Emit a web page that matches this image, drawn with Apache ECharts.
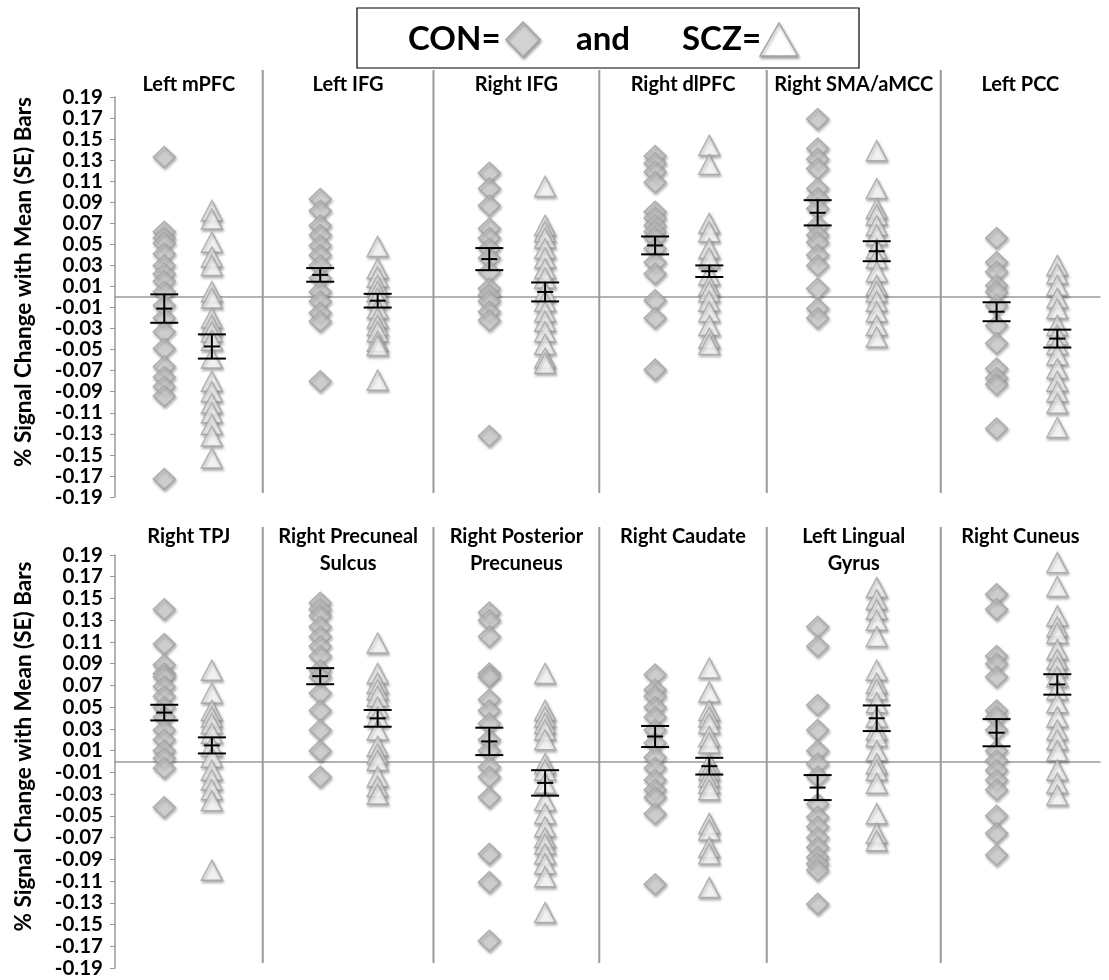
<!DOCTYPE html>
<html>
<head>
<meta charset="utf-8">
<script src="https://cdn.jsdelivr.net/npm/echarts@6/dist/echarts.min.js"></script>
<style>
html,body{margin:0;padding:0;background:#fff;}
#chart{width:1109px;height:980px;}
</style>
</head>
<body>
<div id="chart"></div>
<script>
// ---------------- DATA ----------------
const regions = [
  'Left mPFC', 'Left IFG', 'Right IFG', 'Right dlPFC', 'Right SMA/aMCC', 'Left PCC',
  'Right TPJ', 'Right Precuneal\nSulcus', 'Right Posterior\nPrecuneus', 'Right Caudate', 'Left Lingual\nGyrus', 'Right Cuneus'
];
const yTicks = [-0.19,-0.17,-0.15,-0.13,-0.11,-0.09,-0.07,-0.05,-0.03,-0.01,0.01,0.03,0.05,0.07,0.09,0.11,0.13,0.15,0.17,0.19];

const conValues = [
  [0.133,0.062,0.056,0.051,0.041,0.030,0.022,0.015,0.005,-0.008,-0.020,-0.033,-0.049,-0.066,-0.076,-0.085,-0.094,-0.173],
  [0.093,0.082,0.068,0.059,0.049,0.040,0.030,0.018,0.005,-0.004,-0.015,-0.023,-0.080],
  [0.118,0.103,0.087,0.065,0.056,0.046,0.037,0.024,0.008,0.002,-0.004,-0.014,-0.022,-0.132],
  [0.134,0.127,0.119,0.109,0.081,0.075,0.068,0.062,0.056,0.046,0.033,0.022,-0.003,-0.020,-0.069],
  [0.169,0.141,0.131,0.122,0.103,0.094,0.084,0.068,0.059,0.052,0.040,0.030,0.008,-0.011,-0.020],
  [0.056,0.033,0.024,0.011,0.005,-0.008,-0.027,-0.044,-0.068,-0.077,-0.083,-0.125],
  [0.140,0.108,0.089,0.081,0.078,0.069,0.060,0.050,0.041,0.029,0.020,0.010,0.003,-0.006,-0.042],
  [0.146,0.140,0.134,0.124,0.115,0.106,0.097,0.084,0.078,0.063,0.047,0.029,0.010,-0.014],
  [0.137,0.130,0.115,0.081,0.078,0.057,0.047,0.035,0.020,0.010,-0.005,-0.014,-0.033,-0.085,-0.111,-0.165],
  [0.080,0.066,0.060,0.050,0.041,0.029,0.017,0.004,-0.006,-0.017,-0.026,-0.033,-0.048,-0.113],
  [0.124,0.106,0.052,0.029,0.010,-0.002,-0.014,-0.039,-0.051,-0.060,-0.070,-0.079,-0.088,-0.094,-0.100,-0.131],
  [0.154,0.140,0.097,0.090,0.078,0.047,0.041,0.029,0.010,0.001,-0.008,-0.017,-0.026,-0.050,-0.066,-0.086]
];
const sczValues = [
  [0.082,0.074,0.052,0.038,0.030,0.005,-0.001,-0.020,-0.027,-0.033,-0.041,-0.058,-0.080,-0.090,-0.101,-0.110,-0.121,-0.132,-0.153],
  [0.048,0.027,0.019,0.011,0.005,-0.001,-0.011,-0.020,-0.027,-0.033,-0.042,-0.046,-0.079],
  [0.105,0.068,0.062,0.056,0.046,0.037,0.027,0.018,0.005,-0.004,-0.014,-0.023,-0.033,-0.045,-0.058,-0.063],
  [0.144,0.126,0.070,0.062,0.046,0.037,0.021,0.011,0.005,-0.004,-0.014,-0.027,-0.039,-0.045],
  [0.139,0.103,0.084,0.078,0.068,0.059,0.046,0.037,0.024,0.011,0.005,-0.004,-0.014,-0.027,-0.038],
  [0.030,0.022,0.011,-0.001,-0.011,-0.027,-0.036,-0.045,-0.055,-0.068,-0.080,-0.090,-0.101,-0.124],
  [0.084,0.063,0.047,0.041,0.035,0.026,0.014,0.004,-0.008,-0.017,-0.026,-0.036,-0.100],
  [0.109,0.081,0.072,0.066,0.060,0.050,0.041,0.029,0.014,0.007,0.001,-0.014,-0.023,-0.030],
  [0.081,0.047,0.041,0.035,0.029,0.020,-0.002,-0.008,-0.020,-0.036,-0.048,-0.060,-0.070,-0.076,-0.085,-0.094,-0.106,-0.139],
  [0.086,0.064,0.047,0.041,0.035,0.023,0.017,-0.002,-0.008,-0.014,-0.020,-0.026,-0.057,-0.063,-0.079,-0.085,-0.116],
  [0.160,0.149,0.140,0.130,0.115,0.084,0.072,0.066,0.054,0.041,0.029,0.023,0.010,-0.002,-0.008,-0.020,-0.048,-0.066,-0.073],
  [0.183,0.161,0.134,0.124,0.118,0.103,0.094,0.087,0.078,0.066,0.054,0.041,0.029,0.020,0.010,-0.008,-0.020,-0.031]
];
const conMean = [-0.011,0.021,0.036,0.049,0.080,-0.014, 0.045,0.0785,0.0185,0.023,-0.024,0.0265];
const conSE   = [0.0135,0.0065,0.0105,0.0085,0.012,0.009, 0.0072,0.0074,0.0126,0.0097,0.0115,0.0125];
const sczMean = [-0.047,-0.0035,0.0048,0.0245,0.0435,-0.0395, 0.0148,0.0397,-0.0197,-0.0043,0.0398,0.0709];
const sczSE   = [0.0115,0.0065,0.009,0.0055,0.0095,0.0085, 0.0074,0.0077,0.0117,0.0077,0.0118,0.0094];

// ---------------- LAYOUT ----------------
const conX = [0.30,1.25,2.28,3.29,4.28,5.37];
const sczX = [0.59,1.60,2.62,3.62,4.64,5.74];
const dividerX = [0.90,1.94,2.95,3.97,5.03];
const bounds = [0].concat(dividerX, [6]);
const titleX = [0,1,2,3,4,5].map(i => (bounds[i] + bounds[i+1]) / 2);
const FONT = 'Lato';
const grids = [
  {left:115, top:97, width:985, height:400, divTop:27, divBot:4, titleOff:26},
  {left:115, top:555, width:985, height:413, divTop:28, divBot:5, titleOff:32}
];

const series = [];
const xAxes = [], yAxes = [];
grids.forEach((g, r) => {
  xAxes.push({
    gridIndex:r, type:'value', min:0, max:6,
    axisLine:{show:true, onZero:true, lineStyle:{color:'#9a9a9a', width:1.5}},
    axisTick:{show:false}, axisLabel:{show:false}, splitLine:{show:false}
  });
  yAxes.push({
    gridIndex:r, type:'value', min:-0.19, max:0.19,
    axisLine:{show:true, lineStyle:{color:'#9a9a9a', width:1.5}},
    axisTick:{show:true, inside:false, length:5, customValues:yTicks, lineStyle:{color:'#9a9a9a', width:1}},
    axisLabel:{customValues:yTicks, formatter:v => v.toFixed(2), fontFamily:FONT, fontWeight:'bold', fontSize:20.5, color:'#000', margin:12},
    splitLine:{show:false},
    name:'% Signal Change with Mean (SE) Bars', nameLocation:'middle', nameGap:80,
    nameTextStyle:{fontFamily:FONT, fontWeight:'bold', fontSize:22.5, color:'#000', padding:[0,0,0,30]}
  });
  const idx = [0,1,2,3,4,5].map(i => i + r*6);
  const conData = [], sczData = [], errData = [];
  idx.forEach((k, i) => {
    conValues[k].forEach(v => conData.push([conX[i], v]));
    sczValues[k].forEach(v => sczData.push([sczX[i], v]));
    errData.push([conX[i], conMean[k], conSE[k]]);
    errData.push([sczX[i], sczMean[k], sczSE[k]]);
  });
  series.push({
    type:'scatter', xAxisIndex:r, yAxisIndex:r, symbol:'diamond', symbolSize:[22,21],
    itemStyle:{color:'#d2d2d2', borderColor:'#a4a4a4', borderWidth:1.5, shadowColor:'rgba(0,0,0,0.35)', shadowBlur:3, shadowOffsetX:1, shadowOffsetY:2},
    data:conData, z:3, silent:true
  });
  series.push({
    type:'scatter', xAxisIndex:r, yAxisIndex:r, symbol:'triangle', symbolSize:[21,20],
    itemStyle:{color:'#ffffff', borderColor:'#a4a4a4', borderWidth:1.5, shadowColor:'rgba(0,0,0,0.35)', shadowBlur:3, shadowOffsetX:1, shadowOffsetY:2},
    data:sczData, z:3, silent:true
  });
  series.push({
    type:'custom', xAxisIndex:r, yAxisIndex:r, z:5, silent:true,
    data:errData, encode:{x:0, y:1},
    renderItem:(params, api) => {
      const x = api.value(0), m = api.value(1), se = api.value(2);
      const pm = api.coord([x, m]), ph = api.coord([x, m + se]), pl = api.coord([x, m - se]);
      const st = {stroke:'#000', lineWidth:2};
      const cw = 14, mw = 8;
      return {type:'group', children:[
        {type:'line', shape:{x1:pm[0], y1:ph[1], x2:pm[0], y2:pl[1]}, style:st},
        {type:'line', shape:{x1:pm[0]-cw, y1:ph[1], x2:pm[0]+cw, y2:ph[1]}, style:st},
        {type:'line', shape:{x1:pm[0]-cw, y1:pl[1], x2:pm[0]+cw, y2:pl[1]}, style:st},
        {type:'line', shape:{x1:pm[0]-mw, y1:pm[1], x2:pm[0]+mw, y2:pm[1]}, style:st}
      ]};
    }
  });
  series.push({
    type:'custom', xAxisIndex:r, yAxisIndex:r, z:1, silent:true, clip:false,
    data:dividerX.map(d => [d, 0]), encode:{x:0, y:1},
    renderItem:(params, api) => {
      const cs = params.coordSys;
      const x = api.coord([api.value(0), 0])[0];
      return {type:'line', shape:{x1:x, y1:cs.y - g.divTop, x2:x, y2:cs.y + cs.height - g.divBot},
              style:{stroke:'#9a9a9a', lineWidth:2}};
    }
  });
  series.push({
    type:'custom', xAxisIndex:r, yAxisIndex:r, z:6, silent:true, clip:false,
    data:titleX.map(t => [t, 0]), encode:{x:0, y:1},
    renderItem:(params, api) => {
      const cs = params.coordSys;
      const x = api.coord([api.value(0), 0])[0];
      return {type:'text', x:x, y:cs.y - g.titleOff,
              style:{text:regions[params.dataIndex + r*6], fill:'#000', align:'center', verticalAlign:'top',
                     font:'bold 20px ' + FONT, lineHeight:27}};
    }
  });
});

const chart = echarts.init(document.getElementById('chart'), null, {renderer:'canvas'});
chart.setOption({
  animation:false,
  backgroundColor:'#fff',
  textStyle:{fontFamily:FONT},
  grid:grids.map(g => ({left:g.left, top:g.top, width:g.width, height:g.height, containLabel:false})),
  xAxis:xAxes,
  yAxis:yAxes,
  series:series,
  graphic:[
    {type:'rect', shape:{x:357, y:8, width:502, height:60}, style:{fill:'#fff', stroke:'#000', lineWidth:1.2}, z:10},
    {type:'text', x:408, y:39, style:{text:'CON=', font:'bold 33px ' + FONT, fill:'#000', verticalAlign:'middle'}, z:11},
    {type:'polygon', shape:{points:[[523,22],[540,39.5],[523,57],[506,39.5]]},
      style:{fill:'#d2d2d2', stroke:'#a4a4a4', lineWidth:1.5, shadowColor:'rgba(0,0,0,0.35)', shadowBlur:3, shadowOffsetX:1, shadowOffsetY:2}, z:11},
    {type:'text', x:576, y:39, style:{text:'and', font:'bold 33px ' + FONT, fill:'#000', verticalAlign:'middle'}, z:11},
    {type:'text', x:682, y:39, style:{text:'SCZ=', font:'bold 33px ' + FONT, fill:'#000', verticalAlign:'middle'}, z:11},
    {type:'polygon', shape:{points:[[779,23],[798,56],[760,56]]},
      style:{fill:'#fff', stroke:'#a4a4a4', lineWidth:1.5, shadowColor:'rgba(0,0,0,0.35)', shadowBlur:3, shadowOffsetX:1, shadowOffsetY:2}, z:11}
  ]
});
</script>
</body>
</html>
